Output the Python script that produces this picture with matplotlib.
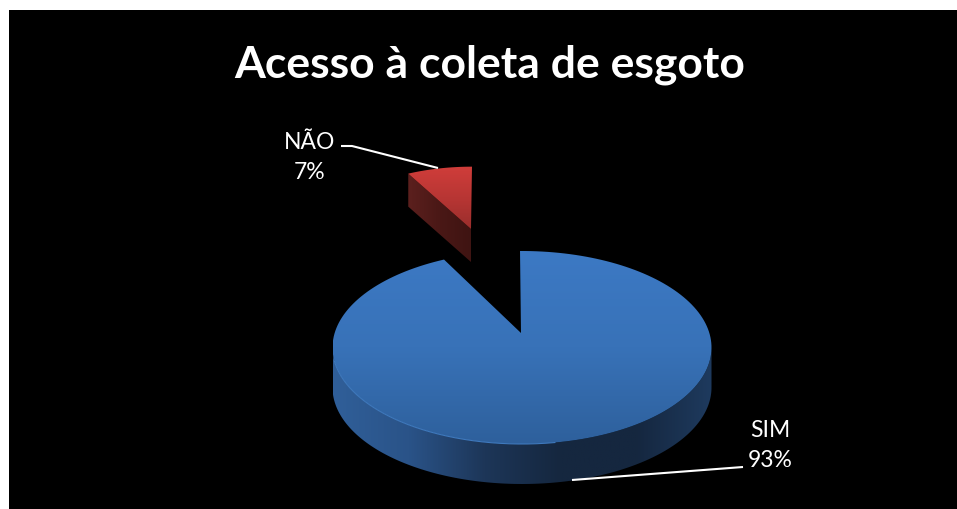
import numpy as np
import matplotlib
matplotlib.use('Agg')
import matplotlib.pyplot as plt
from matplotlib.patches import Polygon, Rectangle
from matplotlib.colors import LinearSegmentedColormap

# sewage collection access survey
labels = ['SIM', 'NÃO']
values = [93, 7]
title = 'Acesso à coleta de esgoto'

plt.rcParams['font.family'] = ['Lato', 'DejaVu Sans']

W, H = 957, 510
fig = plt.figure(figsize=(W / 100, H / 100), dpi=100, facecolor='white')
ax = fig.add_axes([0, 0, 1, 1])
ax.set_xlim(0, W)
ax.set_ylim(H, 0)
ax.axis('off')
ax.add_patch(Rectangle((9, 11), W - 9, H - 11, fc='black', ec='none', zorder=0))


def arc(cx, cy, rx, ry, a0, a1, n=200):
    # angles clockwise from 12 o'clock
    t = np.radians(np.linspace(a0, a1, n))
    return np.c_[cx + rx * np.sin(t), cy - ry * np.cos(t)]


def fill_gradient(poly, colors, box, horizontal=False, z=1):
    cmap = LinearSegmentedColormap.from_list('g', colors)
    g = np.linspace(0, 1, 256)
    g = g[None, :] if horizontal else g[:, None]
    im = ax.imshow(g, cmap=cmap, extent=box, aspect='auto', zorder=z,
                   interpolation='bilinear')
    patch = Polygon(poly, closed=True, fc='none', ec='none', transform=ax.transData)
    ax.add_patch(patch)
    im.set_clip_path(patch)


sweep = 360 * values[1] / sum(values)
start = -0.6

# big slice, ellipse centre sits below the apex
cx, cy, rx, ry = 522, 348.5, 189.5, 96.5
depth = 40
apex = (521, 334)
rim = arc(cx, cy, rx, ry, start, start + 360 - sweep + 1.5)

# outer wall, only the front half of the rim shows
front = arc(cx, cy, rx, ry, 90, 270)
wall = np.r_[front, (front + [0, depth])[::-1]]
fill_gradient(wall, ['#305f99', '#2a5388', '#1d3658', '#15273f', '#15273f', '#1e3a5e'],
              (cx - rx, cx + rx, cy + ry + depth, cy), horizontal=True)

top = np.r_[[apex], rim]
fill_gradient(top, ['#3c79c4', '#3872b8', '#2e609c'],
              (cx - rx, cx + rx, cy + ry, cy - ry), z=2)
edge = arc(cx, cy, rx, ry, 170, 262)
ax.plot(edge[:, 0], edge[:, 1], color='#3f79bd', lw=0.8, zorder=3)

# pulled out slice
rcx, rcy, rrx, rry = 472, 241, rx * 0.79, ry * 0.76
rdepth = 33
rapex = (471, 230)
rrim = arc(rcx, rcy, rrx, rry, -sweep, 0)
rleft = rrim[0]
wall2 = np.array([rleft, rapex, (rapex[0], rapex[1] + rdepth), (rleft[0], rleft[1] + rdepth)])
fill_gradient(wall2, ['#5c201e', '#4a1816', '#3f1412'],
              (rleft[0], rapex[0], rapex[1] + rdepth, rleft[1]), horizontal=True)
top2 = np.r_[[rapex], rrim]
fill_gradient(top2, ['#d03d3a', '#b83634', '#9a2e2c'], (rleft[0], rcx, rapex[1], rrim[:, 1].min()), z=2)

# leader lines
ax.plot([341, 352, 438], [147, 147, 169], color='white', lw=1.5, zorder=4, solid_capstyle='butt')
ax.plot([572, 743], [481, 468], color='white', lw=1.5, zorder=4, solid_capstyle='butt')

ax.text(490, 65, title, color='white', fontsize=32, fontweight='bold', ha='center', va='center')
ax.text(310, 157.5, '%s\n%d%%' % (labels[1], values[1]), color='white', fontsize=16.5,
        ha='center', va='center', linespacing=1.55)
ax.text(770, 445.5, '%s\n%d%%' % (labels[0], values[0]), color='white', fontsize=16.5,
        ha='center', va='center', linespacing=1.55)

ax.set_xlim(0, W)
ax.set_ylim(H, 0)
fig.savefig('out.png', dpi=100, facecolor='white')
